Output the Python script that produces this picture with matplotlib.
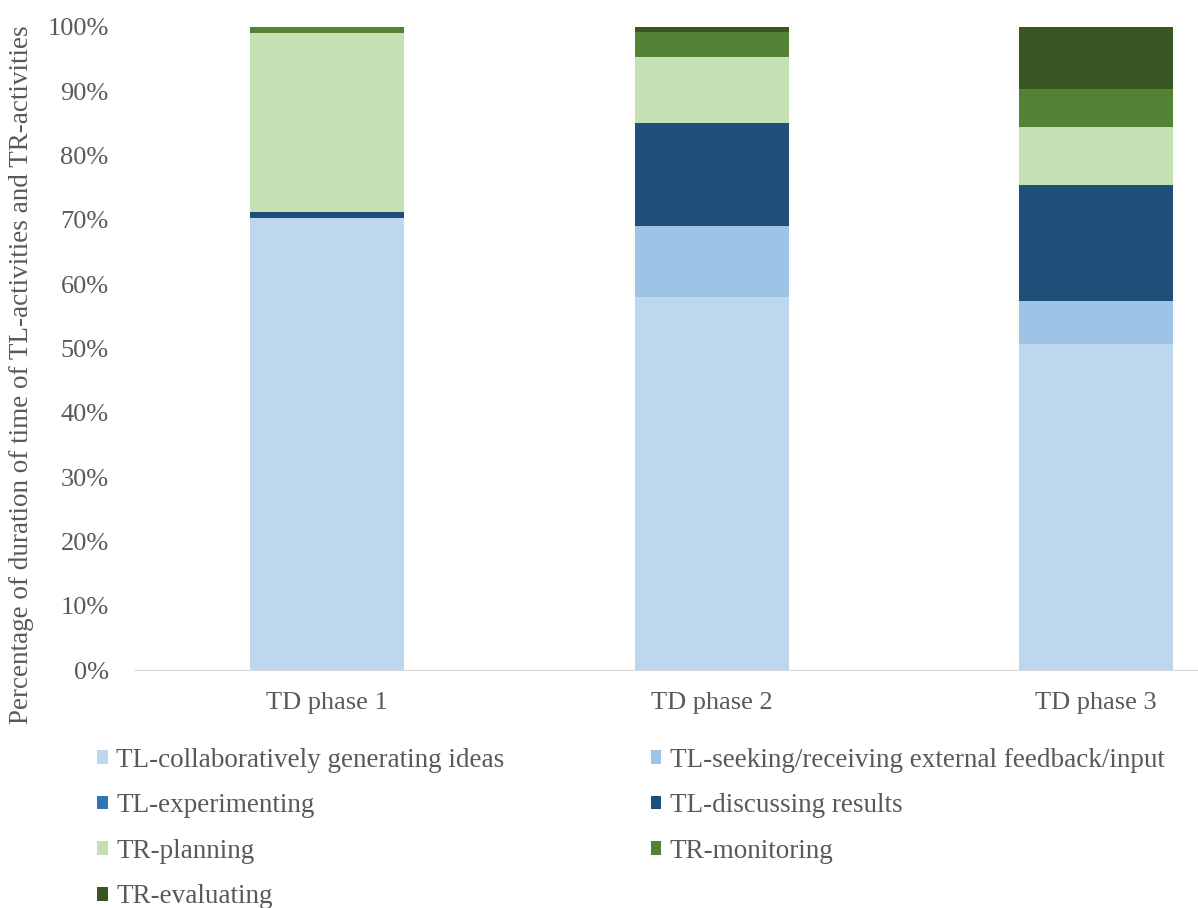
import numpy as np
import matplotlib.pyplot as plt
from matplotlib.ticker import PercentFormatter

plt.rcParams['font.family'] = ['Liberation Serif', 'DejaVu Serif']

# Data (percent of time per phase)
phases = ["TD phase 1", "TD phase 2", "TD phase 3"]
series = [
    "TL-collaboratively generating ideas",
    "TL-seeking/receiving external feedback/input",
    "TL-experimenting",
    "TL-discussing results",
    "TR-planning",
    "TR-monitoring",
    "TR-evaluating",
]
collab = [70.3, 58.0, 50.7]
seeking = [0.0, 11.0, 6.7]
experimenting = [0.0, 0.0, 0.0]
discussing = [1.0, 16.0, 18.0]
planning = [27.8, 10.3, 9.0]
monitoring = [0.9, 3.9, 5.9]
evaluating = [0.0, 0.8, 9.7]
values = [collab, seeking, experimenting, discussing, planning, monitoring, evaluating]
colors = ["#bdd7ee", "#9dc3e6", "#2e75b6", "#1f4e79", "#c5e0b4", "#548235", "#385723"]

grey = "#595959"

fig = plt.figure(figsize=(11.98, 9.08), dpi=100)
ax = fig.add_axes([0.1127, 0.2621, 0.8873, 0.7082])

x = np.arange(len(phases))
bottom = np.zeros(len(phases))
for name, vals, col in zip(series, values, colors):
    vals = np.array(vals)
    ax.bar(x, vals, width=0.4, bottom=bottom, color=col, label=name, linewidth=0)
    bottom += vals

ax.set_xlim(-0.5, 2.265)
ax.set_ylim(0, 100)
ax.set_yticks(np.arange(0, 101, 10))
ax.yaxis.set_major_formatter(PercentFormatter(decimals=0))
ax.set_xticks(x)
ax.set_xticklabels(phases)
ax.tick_params(axis='both', length=0, labelsize=19, colors=grey)
ax.tick_params(axis='x', pad=16)
ax.tick_params(axis='y', pad=19)
for s in ['top', 'right', 'left']:
    ax.spines[s].set_visible(False)
ax.spines['bottom'].set_color('#d9d9d9')

fig.text(0.018, 0.587, "Percentage of duration of time of TL-activities and TR-activities",
         rotation=90, ha='center', va='center', fontsize=19.5, color=grey)

# row-major legend order
handles, labels = ax.get_legend_handles_labels()
order = [0, 2, 4, 6, 1, 3, 5]
leg = fig.legend([handles[i] for i in order], [labels[i] for i in order],
                 loc='upper left', bbox_to_anchor=(0.072, 0.1885), ncol=2, frameon=False,
                 fontsize=19.5, handlelength=0.4, handleheight=0.4, handletextpad=0.3,
                 columnspacing=5.4, labelspacing=0.76, borderaxespad=0)
for t in leg.get_texts():
    t.set_color(grey)

fig.savefig("out.png", dpi=100)
